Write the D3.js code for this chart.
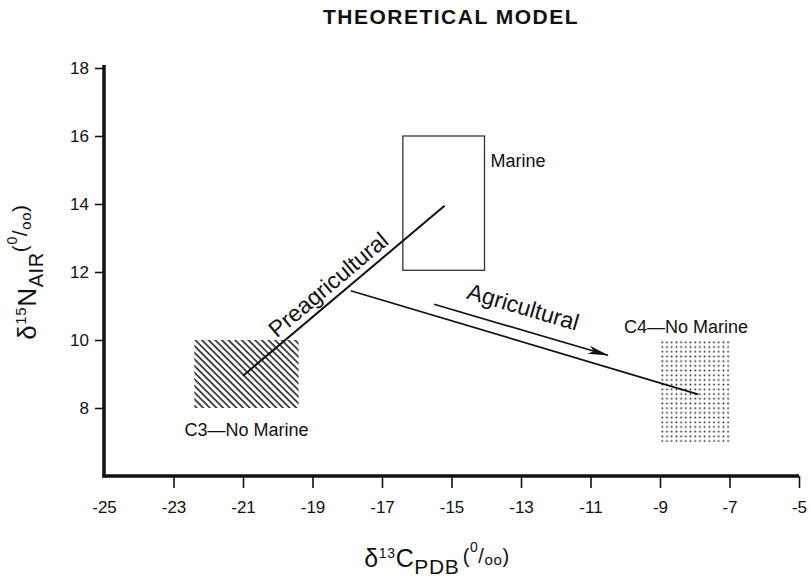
<!DOCTYPE html>
<html>
<head>
<meta charset="utf-8">
<script src="https://cdn.jsdelivr.net/npm/d3@7"></script>
<style>
  body { margin: 0; background: #fff; }
  svg { display: block; }
  text { font-family: "Liberation Sans", Arial, sans-serif; fill: #111; }
</style>
</head>
<body>
<div id="chart"></div>
<script>
// ---- data (per mil) ----
var xTicks = [-25, -23, -21, -19, -17, -15, -13, -11, -9, -7, -5];
var yTicks = [8, 10, 12, 14, 16, 18];

// source boxes: [x0, x1, y0, y1]
var c3Box = [-22.4, -19.4, 8, 10];
var marineBox = [-16.4, -14.05, 12.05, 16];
var c4Box = [-9, -7, 7, 10];

// trend lines
var preagriLine = [[-21, 8.95], [-15.2, 13.95]];
var agriLine = [[-17.9, 11.45], [-7.9, 8.4]];
var agriArrow = [[-15.5, 11.05], [-10.5, 9.55]];

var W = 811, H = 582;
var svg = d3.select("#chart").append("svg").attr("width", W).attr("height", H);

// scales
var x = d3.scaleLinear().domain([-25, -5]).range([104, 799]);
var y = d3.scaleLinear().domain([6, 18]).range([476, 68]);

var defs = svg.append("defs");

// diagonal hatching for C3
defs.append("pattern")
  .attr("id", "hatch")
  .attr("patternUnits", "userSpaceOnUse")
  .attr("width", 4.7).attr("height", 4.7)
  .attr("patternTransform", "rotate(-45)")
  .append("line")
  .attr("x1", 1).attr("y1", 0).attr("x2", 1).attr("y2", 4.7)
  .attr("stroke", "#111").attr("stroke-width", 1.5);

// stipple for C4
var dots = defs.append("pattern")
  .attr("id", "dots")
  .attr("patternUnits", "userSpaceOnUse")
  .attr("x", x(-9)).attr("y", y(10))
  .attr("width", 4.7).attr("height", 4.7);
dots.append("circle").attr("cx", 2.3).attr("cy", 2.3).attr("r", 0.95).attr("fill", "#222");

// title
svg.append("text")
  .attr("x", 451).attr("y", 24)
  .attr("text-anchor", "middle")
  .style("font-weight", "bold").style("font-size", "21px")
  .style("letter-spacing", "1.5px")
  .text("THEORETICAL MODEL");

// axes
var yAxis = d3.axisLeft(y).tickValues(yTicks).tickSize(9).tickSizeOuter(0).tickPadding(6);
var gy = svg.append("g").attr("transform", "translate(" + x(-25) + ",0)").call(yAxis);
gy.select(".domain").remove();
gy.selectAll(".tick line").attr("stroke", "#111").attr("stroke-width", 1.6);
gy.selectAll(".tick text").style("font-size", "17px").attr("fill", "#111");

var xAxis = d3.axisBottom(x).tickValues(xTicks).tickSize(12).tickSizeOuter(0).tickPadding(13);
var gx = svg.append("g").attr("transform", "translate(0," + y(6) + ")").call(xAxis);
gx.select(".domain").remove();
gx.selectAll(".tick line").attr("stroke", "#111").attr("stroke-width", 1.6)
  .filter(function (d) { return d === -25; }).remove();
gx.selectAll(".tick text").style("font-size", "17px").attr("fill", "#111")
  .text(function (d) { return d3.format("d")(d).replace("\u2212", "-"); });

// heavy axis lines
svg.append("line")
  .attr("x1", x(-25)).attr("x2", x(-25))
  .attr("y1", y(18) - 3).attr("y2", y(6) + 1.5)
  .attr("stroke", "#111").attr("stroke-width", 3.5);
svg.append("line")
  .attr("x1", x(-25) - 1.5).attr("x2", x(-5))
  .attr("y1", y(6)).attr("y2", y(6))
  .attr("stroke", "#111").attr("stroke-width", 3.5);

// boxes
function boxRect(b) {
  return svg.append("rect")
    .attr("x", x(b[0])).attr("y", y(b[3]))
    .attr("width", x(b[1]) - x(b[0]))
    .attr("height", y(b[2]) - y(b[3]));
}
boxRect(c3Box).attr("fill", "url(#hatch)");
boxRect(c4Box).attr("fill", "url(#dots)");
boxRect(marineBox).attr("fill", "none").attr("stroke", "#333").attr("stroke-width", 1.3);

// lines
var line = d3.line().x(function (d) { return x(d[0]); }).y(function (d) { return y(d[1]); });
svg.append("path").datum(preagriLine).attr("d", line)
  .attr("fill", "none").attr("stroke", "#111").attr("stroke-width", 2);
svg.append("path").datum(agriLine).attr("d", line)
  .attr("fill", "none").attr("stroke", "#111").attr("stroke-width", 1.7);

defs.append("marker")
  .attr("id", "arrow")
  .attr("viewBox", "0 0 20 10")
  .attr("refX", 19).attr("refY", 5)
  .attr("markerUnits", "userSpaceOnUse")
  .attr("markerWidth", 21).attr("markerHeight", 11)
  .attr("orient", "auto")
  .append("path").attr("d", "M0,1 L20,5 L0,9 L5,5 Z").attr("fill", "#111");
svg.append("path").datum(agriArrow).attr("d", line)
  .attr("fill", "none").attr("stroke", "#111").attr("stroke-width", 1.7)
  .attr("marker-end", "url(#arrow)");

// rotated line labels
function angleOf(seg) {
  var dx = x(seg[1][0]) - x(seg[0][0]), dy = y(seg[1][1]) - y(seg[0][1]);
  return Math.atan2(dy, dx) * 180 / Math.PI;
}
var preAng = angleOf(preagriLine);
svg.append("text")
  .attr("transform", "translate(" + x(-18.4) + "," + y(11.45) + ") rotate(" + preAng + ")")
  .attr("text-anchor", "middle")
  .style("font-size", "23px")
  .text("Preagricultural");
var agAng = angleOf(agriArrow);
svg.append("text")
  .attr("transform", "translate(" + x(-13.0) + "," + y(10.75) + ") rotate(" + agAng + ")")
  .attr("text-anchor", "middle")
  .style("font-size", "23px")
  .text("Agricultural");

// box labels
svg.append("text").attr("x", x(-14.05) + 6).attr("y", y(15.1))
  .style("font-size", "18px").text("Marine");
svg.append("text").attr("x", x(-20.9)).attr("y", y(7.18))
  .attr("text-anchor", "middle").style("font-size", "18px").text("C3\u2014No Marine");
svg.append("text").attr("x", x(-8.25)).attr("y", y(10.2))
  .attr("text-anchor", "middle").style("font-size", "18px").text("C4\u2014No Marine");

// axis titles with super/subscripts; each part: [text, size, baseline offset]
function richText(g, parts) {
  var t = g.append("text");
  var prev = 0;
  parts.forEach(function (p) {
    t.append("tspan").style("font-size", p[1] + "px")
      .attr("dy", p[2] - prev).text(p[0]);
    prev = p[2];
  });
  return t;
}
var yTitleParts = [["\u03b4", 26, 0], ["15", 15, -10], ["N", 26, 0], ["AIR", 20, 7],
  ["(", 21, -9], ["0", 14, -19], ["/", 21, -9], ["oo", 15, -5], [")", 21, -9]];
var xTitleParts = [["\u03b4", 25, 0], ["13", 14, -9], ["C", 25, 0], ["PDB", 21, 7],
  ["\u2009", 14, 0], ["(", 20, -4], ["0", 14, -15], ["/", 20, -4], ["oo", 15, -2], [")", 20, -4]];

var gyTitle = svg.append("g").attr("transform", "translate(36,272) rotate(-90)");
richText(gyTitle, yTitleParts).attr("text-anchor", "middle").style("letter-spacing", "0.6px");
var gxTitle = svg.append("g").attr("transform", "translate(437,567)");
richText(gxTitle, xTitleParts).attr("text-anchor", "middle").style("letter-spacing", "0.6px");
</script>
</body>
</html>
